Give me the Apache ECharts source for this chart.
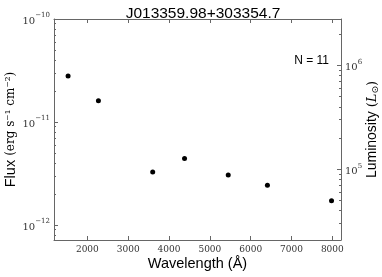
<!DOCTYPE html>
<html><head><meta charset="utf-8">
<script src="https://cdn.jsdelivr.net/npm/echarts@6/dist/echarts.min.js"></script>
<style>html,body{margin:0;padding:0;background:#fff}#c{width:382px;height:277px}</style>
</head><body><div id="c"></div>
<script>
var titleText = 'J013359.98+303354.7';
var annotation = 'N = 11';
var wavelength = [1528, 2271, 3600, 4380, 5450, 6410, 7980];
var flux = [2.8e-11, 1.61e-11, 3.27e-12, 4.41e-12, 3.05e-12, 2.43e-12, 1.72e-12];
var xTicks = [2000, 3000, 4000, 5000, 6000, 7000, 8000];
var fluxMajor = [1e-12, 1e-11, 1e-10];
var fluxMinor = [8e-13, 9e-13, 2e-12, 3e-12, 4e-12, 5e-12, 6e-12, 7e-12, 8e-12, 9e-12, 2e-11, 3e-11, 4e-11, 5e-11, 6e-11, 7e-11, 8e-11, 9e-11];
var lumMajor = [1e5, 1e6];
var lumMinor = [3e4, 4e4, 5e4, 6e4, 7e4, 8e4, 9e4, 2e5, 3e5, 4e5, 5e5, 6e5, 7e5, 8e5, 9e5, 2e6];
var xRange = [1183, 8212];
var fluxRange = [7.14e-13, 1e-10];
var lumRange = [20800, 2.806e6];

function powLabel(v){
  var e = Math.round(Math.log10(v));
  return '{b|10}{s|' + String(e).replace('-', '−') + '}';
}
var axisColor = '#666';
var serif = 'DejaVu Serif';
var sans = 'Liberation Sans';
var powRich = {
  b:{fontFamily:serif, fontSize:10, color:'#333', verticalAlign:'bottom', lineHeight:14},
  s:{fontFamily:serif, fontSize:7, color:'#333', verticalAlign:'top', lineHeight:14, padding:[0,0,6,0]}
};
var chart = echarts.init(document.getElementById('c'), null, {renderer:'canvas'});
chart.setOption({
  animation:false,
  backgroundColor:'#fff',
  title:{text:titleText, left:198, top:1, textAlign:'center',
    textStyle:{fontFamily:sans, fontSize:15.5, fontWeight:'normal', color:'#000'}},
  graphic:[{type:'text', right:53, top:55, style:{text:annotation, font:'12px "Liberation Sans"', fill:'#000'}}],
  grid:{left:54, right:41, top:19, bottom:37, outerBoundsMode:'none', containLabel:false},
  xAxis:[{
    type:'value', min:xRange[0], max:xRange[1], position:'bottom',
    name:'Wavelength (Å)', nameLocation:'middle', nameGap:16, nameMoveOverlap:false,
    nameTextStyle:{fontFamily:sans, fontSize:14.5, color:'#000'},
    axisLine:{lineStyle:{color:axisColor, width:1}},
    axisTick:{inside:true, length:4, customValues:xTicks, lineStyle:{color:axisColor}},
    axisLabel:{customValues:xTicks, formatter:function(v){return String(v);}, fontFamily:serif, fontSize:9, color:'#333', margin:5},
    splitLine:{show:false}
  },{
    type:'value', min:xRange[0], max:xRange[1], position:'top',
    axisLine:{lineStyle:{color:axisColor, width:1}},
    axisTick:{inside:true, length:4, customValues:xTicks, lineStyle:{color:axisColor}},
    axisLabel:{show:false}, splitLine:{show:false}
  }],
  yAxis:[{
    type:'log', min:fluxRange[0], max:fluxRange[1], position:'left',
    name:'{a|Flux }{b|(erg s⁻¹ cm⁻²)}', nameLocation:'middle', nameGap:36, nameRotate:90, nameMoveOverlap:false,
    nameTextStyle:{fontFamily:sans, fontSize:14.5, color:'#000', rich:{
      a:{fontFamily:sans, fontSize:14.5, color:'#000'},
      b:{fontFamily:serif, fontSize:12, color:'#000'}
    }},
    axisLine:{show:true, lineStyle:{color:axisColor, width:1}},
    axisTick:{inside:true, length:4, customValues:fluxMajor, lineStyle:{color:axisColor}},
    axisLabel:{customValues:fluxMajor, formatter:powLabel, rich:powRich, margin:4},
    splitLine:{show:false}
  },{
    type:'log', min:fluxRange[0], max:fluxRange[1], position:'left',
    axisLine:{show:false},
    axisTick:{inside:true, length:2, customValues:fluxMinor, lineStyle:{color:axisColor}},
    axisLabel:{show:false}, splitLine:{show:false}
  },{
    type:'log', min:lumRange[0], max:lumRange[1], position:'right',
    name:'{n|Luminosity }{p|(}{i|L}{s|⊙}{p|)}', nameLocation:'middle', nameGap:24, nameRotate:90, nameMoveOverlap:false,
    nameTextStyle:{fontFamily:sans, fontSize:14, color:'#000', rich:{
      n:{fontFamily:sans, fontSize:14, color:'#000'},
      p:{fontFamily:serif, fontSize:13, color:'#000'},
      i:{fontFamily:serif, fontStyle:'italic', fontSize:13, color:'#000'},
      s:{fontFamily:'DejaVu Sans', fontSize:9, color:'#000', verticalAlign:'bottom', padding:[6,0,0,0]}
    }},
    axisLine:{show:true, lineStyle:{color:axisColor, width:1}},
    axisTick:{inside:true, length:4, customValues:lumMajor, lineStyle:{color:axisColor}},
    axisLabel:{customValues:lumMajor, formatter:powLabel, rich:powRich, margin:4},
    splitLine:{show:false}
  },{
    type:'log', min:lumRange[0], max:lumRange[1], position:'right',
    axisLine:{show:false},
    axisTick:{inside:true, length:2, customValues:lumMinor, lineStyle:{color:axisColor}},
    axisLabel:{show:false}, splitLine:{show:false}
  }],
  series:[{
    type:'scatter', xAxisIndex:0, yAxisIndex:0, symbol:'circle', symbolSize:5,
    itemStyle:{color:'#000', opacity:1},
    data:wavelength.map(function(w,i){return [w, flux[i]];})
  }]
});
</script></body></html>
